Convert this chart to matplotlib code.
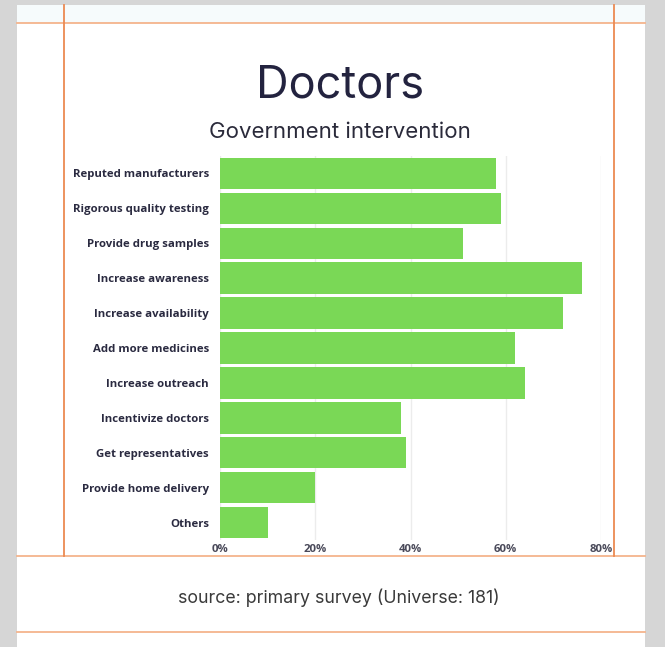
import matplotlib
matplotlib.use("Agg")
from matplotlib import pyplot as plt
from matplotlib.patches import Rectangle
from matplotlib.ticker import PercentFormatter

# data
labels = [
    "Reputed manufacturers",
    "Rigorous quality testing",
    "Provide drug samples",
    "Increase awareness",
    "Increase availability",
    "Add more medicines",
    "Increase outreach",
    "Incentivize doctors",
    "Get representatives",
    "Provide home delivery",
    "Others",
]
shares = [58, 59, 51, 76, 72, 62, 64, 38, 39, 20, 10]
ticks = [0, 20, 40, 60, 80]

W, H = 665, 647
fig = plt.figure(figsize=(W / 100, H / 100), dpi=100)
fig.patch.set_facecolor("#d6d6d6")


def fx(px):
    return px / W


def fy(py):
    return 1 - py / H


# card behind the chart
fig.patches.append(Rectangle((fx(17), 0), fx(645) - fx(17), fy(5), transform=fig.transFigure,
                             facecolor="white", edgecolor="none", zorder=0))
fig.patches.append(Rectangle((fx(17), fy(23)), fx(645) - fx(17), fy(5) - fy(23), transform=fig.transFigure,
                             facecolor="#f6fbfc", edgecolor="none", zorder=0))

# orange guide lines
for yy in [23, 556, 632]:
    fig.add_artist(plt.Line2D([fx(17), fx(645)], [fy(yy), fy(yy)], transform=fig.transFigure,
                              color="#f4b48c", lw=1.3, zorder=1))
for xx in [64, 614]:
    fig.add_artist(plt.Line2D([fx(xx), fx(xx)], [fy(5), fy(556)], transform=fig.transFigure,
                              color="#ec8a52", lw=1.3, zorder=1))

ax = fig.add_axes([fx(220), fy(540), fx(601) - fx(220), fy(156) - fy(540)])
ax.set_zorder(5)
ax.set_facecolor("none")

y = list(range(len(labels)))
ax.barh(y, shares, height=0.9, color="#7ad856", zorder=3)
ax.set_ylim(len(labels) - 0.5, -0.5)
ax.set_xlim(0, 80)
ax.set_xticks(ticks)
ax.xaxis.set_major_formatter(PercentFormatter(decimals=0))
ax.set_yticks(y)
ax.set_yticklabels(labels)

ax.grid(axis="x", color="#ececec", lw=1, zorder=0)
for s in ax.spines.values():
    s.set_visible(False)
ax.tick_params(axis="both", length=0)
ax.tick_params(axis="y", pad=8, labelsize=8.2, labelcolor="#2a2a40")
ax.tick_params(axis="x", pad=3, labelsize=8.2, labelcolor="#4a4a5a")
for t in ax.get_yticklabels() + ax.get_xticklabels():
    t.set_fontfamily("Open Sans")
    t.set_fontweight("bold")

fig.text(fx(340), fy(86), "Doctors", ha="center", va="center", fontsize=32.5,
         color="#23233f", family="Inter", zorder=6)
fig.text(fx(340), fy(132), "Government intervention", ha="center", va="center", fontsize=16,
         color="#2a2a3a", family="Inter", zorder=6)
fig.text(fx(339), fy(598), "source: primary survey (Universe: 181)", ha="center", va="center",
         fontsize=12.8, color="#3a3a3a", family="Inter", zorder=6)

fig.savefig("out.png", dpi=100)
